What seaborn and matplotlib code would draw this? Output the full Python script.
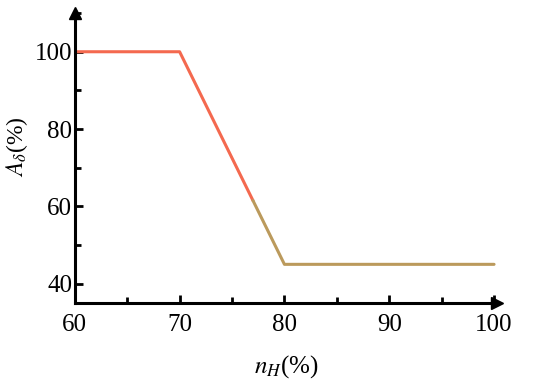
import matplotlib
matplotlib.use("Agg")
import matplotlib.pyplot as plt
import seaborn as sns
from matplotlib.ticker import MultipleLocator

# data: piecewise line, colour changes part way down the slope
x_red = [60, 70, 77]
y_red = [100, 100, 61.5]
x_tan = [77, 80, 100]
y_tan = [61.5, 45, 45]

x_ticks = [60, 70, 80, 90, 100]
y_ticks = [40, 60, 80, 100]

sns.set_style("white")
plt.rcParams['font.family'] = ['Liberation Serif', 'DejaVu Serif']
plt.rcParams['mathtext.fontset'] = 'stix'
plt.rcParams['text.color'] = 'black'
plt.rcParams['axes.labelcolor'] = 'black'
plt.rcParams['xtick.color'] = 'black'
plt.rcParams['ytick.color'] = 'black'

fig = plt.figure(figsize=(5.5, 3.85), dpi=100)
ax = fig.add_axes([0.136, 0.213, 0.768, 0.753])

sns.lineplot(x=x_red, y=y_red, color='#f4694f', linewidth=2.2, ax=ax, sort=False)
sns.lineplot(x=x_tan, y=y_tan, color='#bb9a5c', linewidth=2.2, ax=ax, sort=False)

ax.set_xlim(60, 100.3)
ax.set_ylim(35, 110)
ax.set_xticks(x_ticks)
ax.set_yticks(y_ticks)
ax.xaxis.set_minor_locator(MultipleLocator(5))
ax.yaxis.set_minor_locator(MultipleLocator(10))

for s in ['top', 'right']:
    ax.spines[s].set_visible(False)
for s in ['left', 'bottom']:
    ax.spines[s].set_linewidth(2.2)
    ax.spines[s].set_color('black')

ax.tick_params(which='major', direction='in', length=6, width=2, labelsize=18, pad=2)
ax.tick_params(which='minor', direction='in', length=4, width=2)
ax.tick_params(axis='x', which='major', pad=8)
ax.tick_params(axis='x', which='both', bottom=True)
ax.tick_params(axis='y', which='both', left=True)

# arrow heads on the axes
ax.plot(1, 0, '>', color='black', markersize=9, transform=ax.transAxes, clip_on=False)
ax.plot(0, 1, '^', color='black', markersize=9, transform=ax.transAxes, clip_on=False)

ax.set_xlabel(r'$n_H$(%)', fontsize=18, labelpad=12)
ax.set_ylabel(r'$A_{\delta}$(%)', fontsize=17)
ax.yaxis.set_label_coords(-0.105, 0.54)

fig.savefig('out.png', dpi=100)
